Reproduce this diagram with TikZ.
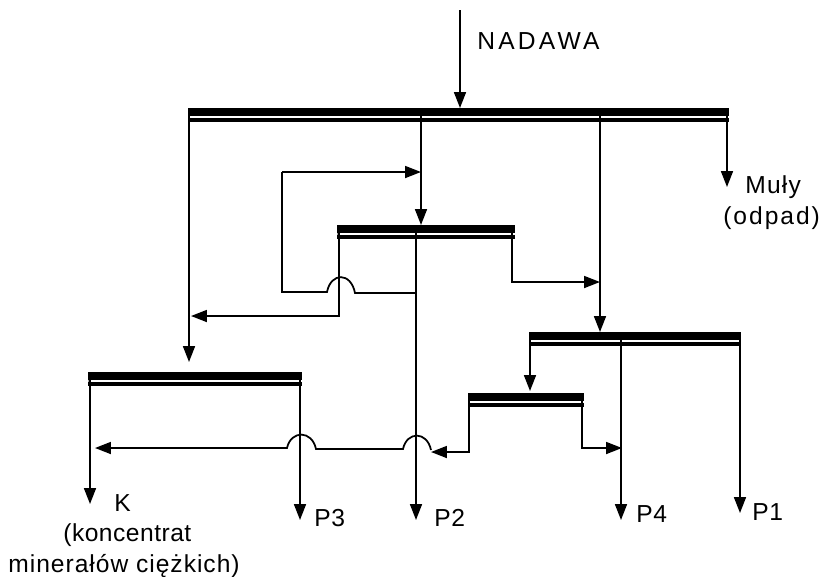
\documentclass[tikz,border=0pt]{standalone}
\usepackage{fontspec}
\setmainfont{Liberation Sans}
\usetikzlibrary{
    arrows.meta,
    calc
}
\tikzset{
    flow/.style={line width=1pt},
    tip/.style={flow, -{Triangle[length=3.2mm,width=2.4mm]}},
    deck/.style={anchor=north west, fill=black, inner sep=0pt, minimum height=0.28cm,
        path picture={\fill[white] ($(path picture bounding box.north west)+(0,7.5)$)
            rectangle ($(path picture bounding box.north east)+(0,10)$);}},
    lbl/.style={anchor=west, inner sep=0pt, font=\fontsize{14}{16}\selectfont\addfontfeature{LetterSpace=#1}},
    lbl/.default=0
}

\begin{document}
\begin{tikzpicture}[x=0.02cm,y=-0.02cm]

\useasboundingbox (0,0) rectangle (823,576);

% Decks
\node[deck, minimum width=10.80cm] (deckA) at (189,108) {};
\node[deck, minimum width=3.56cm] (deckB) at (337,225) {};
\node[deck, minimum width=4.28cm] (deckC) at (88,372) {};
\node[deck, minimum width=4.22cm] (deckD) at (530,332) {};
\node[deck, minimum width=2.30cm] (deckE) at (469,393) {};

% Labels
\node[lbl=13] (nadawa) at (477,41) {NADAWA};
\node[lbl=5] (muly) at (745,187) {Muły};
\node[lbl=8] (odpad) at (723,218) {(odpad)};
\node[lbl] (k) at (114,503) {K};
\node[lbl=2] (koncentrat) at (63,535) {(koncentrat};
\node[lbl=4] (mineralow) at (8,566) {minerałów ciężkich)};
\node[lbl=3] (p3) at (314,518) {P3};
\node[lbl=3] (p2) at (434,518) {P2};
\node[lbl=3] (p4) at (636,514) {P4};
\node[lbl=3] (p1) at (752,512) {P1};

% Free ends
\coordinate (feed) at (460,10);
\coordinate (inB) at (421,172);
\coordinate (inC) at (189,362);
\coordinate (inD) at (600,282);
\coordinate (inE) at (530,391);
\coordinate (endMuly) at (727,187);
\coordinate (endK) at (90,504);
\coordinate (endP3) at (300,520);
\coordinate (endP2) at (416,520);
\coordinate (endP4) at (621,520);
\coordinate (endP1) at (740,513);

% Top deck
\draw[tip] (feed) -- (deckA.north -| feed);
\draw[tip] (deckA.north -| inB) -- (deckB.north -| inB);
\draw[tip] (deckA.north -| inC) -- (inC);
\draw[tip] (deckA.north -| inD) -- (deckD.north -| inD);
\draw[tip] (deckA.north -| endMuly) -- (endMuly);

% Second deck
\coordinate (bLeft) at (339,316);
\coordinate (bMid) at (416,293);
\coordinate (bRight) at (512,282);
\draw[tip] (deckB.north -| bLeft) -- (bLeft) -- (191,316);
\draw[tip] (deckB.north -| endP2) -- (endP2);
\draw[tip] (deckB.north -| bRight) -- (bRight) -- (inD);
\draw[flow] (bMid) -- (355,293) .. controls (351,272) and (331,272) .. (327,292) -- (282,292) -- (282,172);
\draw[tip] (282,172) -- (inB);

% Lower left deck
\draw[tip] (deckC.north -| endK) -- (endK);
\draw[tip] (deckC.north -| endP3) -- (endP3);

% Right deck
\draw[tip] (deckD.north -| inE) -- (inE);
\draw[tip] (deckD.north -| endP4) -- (endP4);
\draw[tip] (deckD.north -| endP1) -- (endP1);

% Small deck
\coordinate (eLeft) at (469,452);
\coordinate (eRight) at (582,448);
\draw[tip] (deckE.north -| eLeft) -- (eLeft) -- (431,452);
\draw[tip] (deckE.north -| eRight) -- (eRight) -- (622,448);
\draw[tip] (431,450) .. controls (427,431) and (407,431) .. (403,449) -- (316,449)
    .. controls (312,430) and (291,430) .. (287,448) -- (95,448);

\end{tikzpicture}
\end{document}
